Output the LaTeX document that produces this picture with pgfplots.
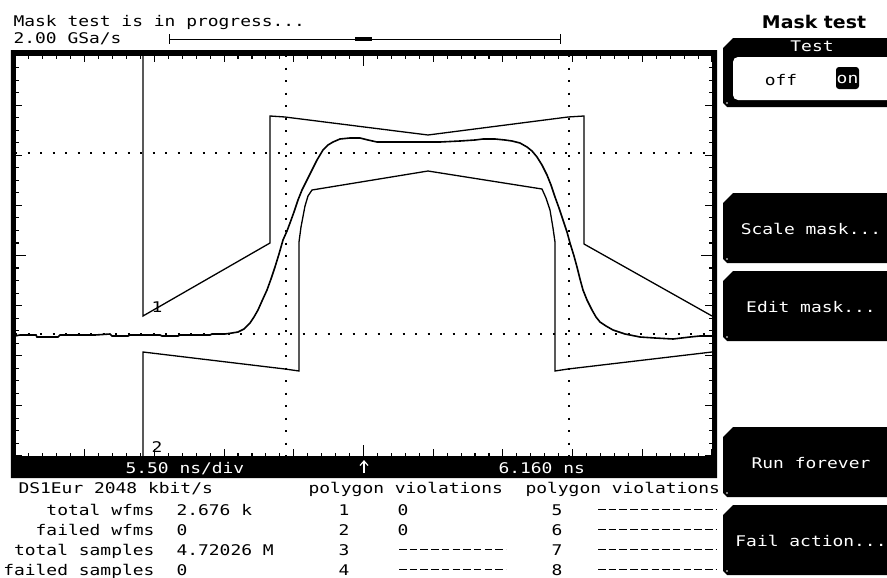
\documentclass[border=0pt]{standalone}
\usepackage{pgfplots}
\pgfplotsset{compat=1.18}
\usepackage{fontspec}
\newfontfamily\dsofont[FakeStretch=1.22, Ligatures=TeXOff]{DejaVu Sans Mono}
\newfontfamily\dsobold[FakeStretch=1.08, Ligatures=TeXOff]{DejaVu Sans}
\newcommand\scr{\dsofont\fontsize{14.7}{17}\selectfont}

\begin{document}
\begin{tikzpicture}
\begin{axis}[
  scale only axis, width=697pt, height=401pt,
  xmin=15, xmax=712, ymin=55, ymax=456, y dir=reverse,
  clip=false,
  axis line style={line width=0.8pt},
  xtick={15,84.7,154.4,224.1,293.8,363.5,433.2,502.9,572.6,642.3,712},
  ytick={55,105.125,155.25,205.375,255.5,305.625,355.75,405.875,456},
  minor x tick num=4, minor y tick num=3,
  extra x ticks={363.5}, extra y ticks={255.5},
  extra tick style={major tick length=11pt},
  xticklabel=\empty, yticklabel=\empty,
  extra x tick labels={}, extra y tick labels={},
  tick align=inside, major tick length=7pt, minor tick length=3.5pt,
  every tick/.style={line width=1.1pt, black},
  every node/.style={inner sep=0pt},
]
% markers
\addplot[black, line width=2pt, dash pattern=on 2pt off 10.5pt] coordinates {(285.5,55) (285.5,456)};
\addplot[black, line width=2pt, dash pattern=on 2pt off 10.5pt] coordinates {(568.5,55) (568.5,456)};
\addplot[black, line width=2pt, dash pattern=on 2pt off 10.5pt] coordinates {(15,152.5) (712,152.5)};
\addplot[black, line width=2pt, dash pattern=on 2pt off 10.5pt] coordinates {(15,333.5) (712,333.5)};

% mask polygon 1 (upper)
\addplot[black, line width=1.3pt] coordinates {
  (143,55) (143,316) (270,243) (270,116) (285,117) (428,135)
  (568,117) (584,116) (584,244) (712,316)};
% mask polygon 2 (lower)
\addplot[black, line width=1.3pt] coordinates {
  (143,456) (143,352) (285,369) (299,371) (299,242) (301,227) (305,206)
  (308,196) (312,190) (428,171) (542,189) (546,198) (550,210) (553,228)
  (555,242) (555,371) (568,369) (712,352)};

% measured pulse
\addplot[black, line width=1.6pt] coordinates {
  (15,336) (20,335) (36,335) (37,337) (58,337) (60,335) (75,335) (95,335)
  (110,334) (112,336) (128,336) (130,335) (160,335) (162,336) (178,336)
  (180,335) (210,335) (212,334) (225,334) (232,333) (238,332) (244,329)
  (250,323) (254,317) (258,310) (262,301) (267,290) (271,279) (275,267)
  (279,254) (283,240) (287,231) (290,223) (294,212) (298,200) (302,190)
  (307,180) (312,170) (317,160) (323,150) (328,145) (333,142) (340,139)
  (350,138) (360,138) (368,140) (377,142) (400,142) (420,142) (440,142)
  (460,141) (475,140) (483,139) (495,139) (505,140) (512,141) (520,143)
  (527,147) (532,151) (537,157) (542,165) (547,175) (551,185) (555,197)
  (559,208) (563,220) (567,232) (570,243) (574,256) (577,267) (580,279)
  (583,290) (587,300) (592,310) (596,317) (600,322) (606,326) (613,330)
  (625,334) (640,337) (655,338) (673,339) (690,337) (700,336) (712,336)};

\node[anchor=base west, font=\scr] at (axis cs:148,312) {1};
\node[anchor=base west, font=\scr] at (axis cs:148,452) {2};

% screen frame and status bar
\fill[black, even odd rule] (axis cs:11,50) rectangle (axis cs:717,478)
  (axis cs:15,55) rectangle (axis cs:712,456);
\node[anchor=base west, font=\scr, text=white] at (axis cs:122,473) {5.50 ns/div};
\draw[white, line width=1.2pt] (axis cs:364,473) -- (axis cs:364,461);
\draw[white, line width=1.2pt] (axis cs:360,465.5) -- (axis cs:364,461) -- (axis cs:368,465.5);
\node[anchor=base west, font=\scr, text=white] at (axis cs:495,473) {6.160 ns};

% header
\node[anchor=base west, font=\scr] at (axis cs:10,26) {Mask test is in progress...};
\node[anchor=base west, font=\scr] at (axis cs:10,43) {2.00 GSa/s};
\draw[line width=1pt] (axis cs:169,39) -- (axis cs:560,39);
\draw[line width=1pt] (axis cs:169,34) -- (axis cs:169,44);
\draw[line width=1pt] (axis cs:560,34) -- (axis cs:560,44);
\draw[line width=3.5pt] (axis cs:355,39) -- (axis cs:372,39);

% softkey menu
\node[anchor=base, font=\dsobold\bfseries\fontsize{17.5}{20}\selectfont] at (axis cs:814,28) {Mask test};
\fill[black] (axis cs:733,38) -- (axis cs:887,38) -- (axis cs:887,107) -- (axis cs:727,107)
  -- (axis cs:723,103) -- (axis cs:723,48) -- cycle;
\fill[white, rounded corners=5pt] (axis cs:887,57) -- (axis cs:733,57) -- (axis cs:733,100) -- (axis cs:887,100);
\node[anchor=base, font=\scr, text=white] at (axis cs:812,51) {Test};
\node[anchor=base, font=\scr] at (axis cs:781,85) {off};
\fill[black, rounded corners=3pt] (axis cs:836,67) rectangle (axis cs:859,89);
\node[anchor=base, font=\scr, text=white] at (axis cs:847.5,83) {on};

\fill[black] (axis cs:733,193) -- (axis cs:887,193) -- (axis cs:887,263) -- (axis cs:727,263)
  -- (axis cs:723,259) -- (axis cs:723,203) -- cycle;
\fill[black] (axis cs:733,271) -- (axis cs:887,271) -- (axis cs:887,341) -- (axis cs:727,341)
  -- (axis cs:723,337) -- (axis cs:723,281) -- cycle;
\fill[black] (axis cs:733,427) -- (axis cs:887,427) -- (axis cs:887,497) -- (axis cs:727,497)
  -- (axis cs:723,493) -- (axis cs:723,437) -- cycle;
\fill[black] (axis cs:733,505) -- (axis cs:887,505) -- (axis cs:887,575) -- (axis cs:727,575)
  -- (axis cs:723,571) -- (axis cs:723,515) -- cycle;
\fill[white] (axis cs:727,103) circle (0.8pt) (axis cs:727,259) circle (0.8pt)
  (axis cs:727,337) circle (0.8pt) (axis cs:727,493) circle (0.8pt) (axis cs:727,571) circle (0.8pt);
\node[anchor=base, font=\scr, text=white] at (axis cs:811,234) {Scale mask...};
\node[anchor=base, font=\scr, text=white] at (axis cs:811,312) {Edit mask...};
\node[anchor=base, font=\scr, text=white] at (axis cs:811,468) {Run forever};
\node[anchor=base, font=\scr, text=white] at (axis cs:811,546) {Fail action...};

% results table
\node[anchor=base west, font=\scr] at (axis cs:15,493) {DS1Eur 2048 kbit/s};
\node[anchor=base west, font=\scr] at (axis cs:305,493) {polygon violations};
\node[anchor=base west, font=\scr] at (axis cs:522,493) {polygon violations};
\node[anchor=base east, font=\scr] at (axis cs:158,515) {total wfms};
\node[anchor=base east, font=\scr] at (axis cs:158,535) {failed wfms};
\node[anchor=base east, font=\scr] at (axis cs:158,555) {total samples};
\node[anchor=base east, font=\scr] at (axis cs:158,575) {failed samples};
\node[anchor=base west, font=\scr] at (axis cs:173,515) {2.676 k};
\node[anchor=base west, font=\scr] at (axis cs:173,535) {0};
\node[anchor=base west, font=\scr] at (axis cs:173,555) {4.72026 M};
\node[anchor=base west, font=\scr] at (axis cs:173,575) {0};
\node[anchor=base, font=\scr] at (axis cs:344,515) {1};
\node[anchor=base, font=\scr] at (axis cs:344,535) {2};
\node[anchor=base, font=\scr] at (axis cs:344,555) {3};
\node[anchor=base, font=\scr] at (axis cs:344,575) {4};
\node[anchor=base, font=\scr] at (axis cs:403,515) {0};
\node[anchor=base, font=\scr] at (axis cs:403,535) {0};
\node[anchor=base, font=\scr] at (axis cs:557,515) {5};
\node[anchor=base, font=\scr] at (axis cs:557,535) {6};
\node[anchor=base, font=\scr] at (axis cs:557,555) {7};
\node[anchor=base, font=\scr] at (axis cs:557,575) {8};
% empty result fields
\draw[line width=1.2pt, dash pattern=on 7.5pt off 3.2pt] (axis cs:399,549.5) -- (axis cs:506,549.5);
\draw[line width=1.2pt, dash pattern=on 7.5pt off 3.2pt] (axis cs:399,569.5) -- (axis cs:506,569.5);
\draw[line width=1.2pt, dash pattern=on 7.5pt off 3.2pt] (axis cs:598,509.5) -- (axis cs:716,509.5);
\draw[line width=1.2pt, dash pattern=on 7.5pt off 3.2pt] (axis cs:598,529.5) -- (axis cs:716,529.5);
\draw[line width=1.2pt, dash pattern=on 7.5pt off 3.2pt] (axis cs:598,549.5) -- (axis cs:716,549.5);
\draw[line width=1.2pt, dash pattern=on 7.5pt off 3.2pt] (axis cs:598,569.5) -- (axis cs:716,569.5);

\coordinate (tl) at (axis cs:0,0);
\coordinate (br) at (axis cs:887,578);
\end{axis}
\pgfresetboundingbox
\useasboundingbox (tl) rectangle (br);
\end{tikzpicture}
\end{document}
